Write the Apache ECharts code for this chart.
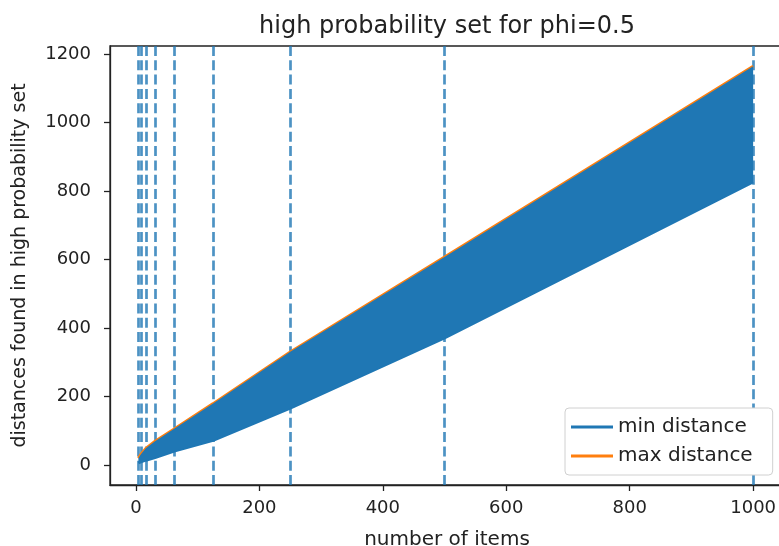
<!DOCTYPE html>
<html>
<head>
<meta charset="utf-8">
<script src="https://cdn.jsdelivr.net/npm/echarts@6/dist/echarts.min.js"></script>
<style>
html,body{margin:0;padding:0;background:#fff;}
#chart{width:779px;height:546px;}
</style>
</head>
<body>
<div id="chart"></div>
<script>
// ---- data ----
const itemCounts   = [4, 8, 16, 31, 62, 125, 250, 500, 1000];
const minDistance  = [6, 9, 14, 22, 41, 72, 166, 371, 827];
const maxDistance  = [20, 32, 49, 70, 106, 180, 331, 608, 1165];
const markerCounts = [4, 8, 16, 31, 62, 125, 250, 500, 1000];
const xTicks = [0, 200, 400, 600, 800, 1000];
const yTicks = [0, 200, 400, 600, 800, 1000, 1200];

const FONT = 'DejaVu Sans';
const TXT = '#222';
const BLUE = '#1f77b4';
const ORANGE = '#ff7f0e';

const minPairs = itemCounts.map((n, i) => [n, minDistance[i]]);
const maxPairs = itemCounts.map((n, i) => [n, maxDistance[i]]);

const chart = echarts.init(document.getElementById('chart'), null, {renderer: 'canvas'});
chart.setOption({
  animation: false,
  backgroundColor: '#fff',
  textStyle: {fontFamily: FONT},
  graphic: [{
    type: 'text', x: 447, y: 27,
    style: {text: 'high probability set for phi=0.5', font: '24px "DejaVu Sans"', fill: TXT,
            textAlign: 'center', textVerticalAlign: 'middle'}
  }],
  grid: {left: 110, right: -5, top: 46, bottom: 61, show: true, containLabel: false,
         outerBoundsMode: 'none',
         borderColor: '#222', borderWidth: 1.3, backgroundColor: 'transparent'},
  legend: {
    data: ['min distance', 'max distance'],
    orient: 'vertical', left: 565, top: 408,
    icon: 'rect', itemWidth: 42, itemHeight: 3, itemGap: 9, itemTextGap: 24,
    padding: [9, 20, 9, 6],
    backgroundColor: '#fff', borderColor: '#d0d0d0', borderWidth: 1, borderRadius: 4,
    textStyle: {fontFamily: FONT, fontSize: 20, color: TXT}
  },
  xAxis: {
    type: 'value', min: -42, max: 1050,
    name: 'number of items', nameLocation: 'middle', nameGap: 45,
    nameTextStyle: {fontFamily: FONT, fontSize: 20, color: TXT},
    axisLine: {show: true, onZero: false, lineStyle: {color: '#222', width: 1.3}},
    axisTick: {show: true, customValues: xTicks, length: 6, lineStyle: {color: '#222', width: 1.3}},
    axisLabel: {customValues: xTicks, fontFamily: FONT, fontSize: 18, color: TXT, margin: 14,
                formatter: v => String(v)},
    splitLine: {show: false}
  },
  yAxis: {
    type: 'value', min: -58, max: 1224,
    name: 'distances found in high probability set', nameLocation: 'middle', nameGap: 80,
    nameTextStyle: {fontFamily: FONT, fontSize: 19, color: TXT},
    axisLine: {show: true, onZero: false, lineStyle: {color: '#222', width: 1.3}},
    axisTick: {show: true, customValues: yTicks, length: 6, lineStyle: {color: '#222', width: 1.3}},
    axisLabel: {customValues: yTicks, fontFamily: FONT, fontSize: 18, color: TXT, margin: 19,
                formatter: v => String(v)},
    splitLine: {show: false}
  },
  series: [
    {
      name: 'min distance', type: 'line', data: minPairs, symbol: 'none', z: 4,
      color: BLUE, lineStyle: {color: BLUE, width: 2.7},
      markLine: {
        silent: true, symbol: 'none', z: 3, label: {show: false},
        lineStyle: {color: BLUE, opacity: 0.8, type: [10, 4.3], width: 2.7},
        data: markerCounts.map(v => ({xAxis: v}))
      }
    },
    {
      name: 'max distance', type: 'line', data: maxPairs, symbol: 'none', z: 6,
      color: ORANGE, lineStyle: {color: ORANGE, width: 2.7}
    },
    {
      name: 'band', type: 'custom', z: 10, silent: true, data: [[itemCounts[0], minDistance[0]]],
      renderItem: function (params, api) {
        const top = itemCounts.map((n, i) => api.coord([n, maxDistance[i]]));
        const bot = itemCounts.map((n, i) => api.coord([n, minDistance[i]])).reverse();
        return {type: 'polygon', shape: {points: top.concat(bot)}, style: {fill: BLUE}};
      }
    }
  ]
});
</script>
</body>
</html>
